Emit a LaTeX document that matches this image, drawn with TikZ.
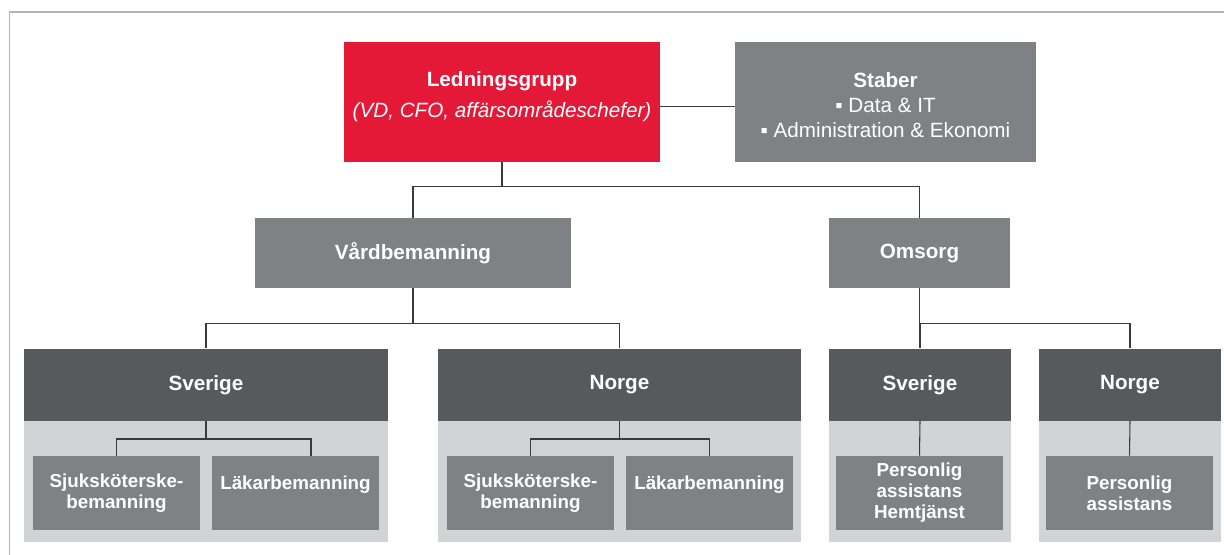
\documentclass[tikz,border=0pt]{standalone}
\usepackage{fontspec}
\setmainfont{Liberation Sans}
\definecolor{lgred}{HTML}{E31937}
\definecolor{boxgray}{HTML}{808184}
\definecolor{headgray}{HTML}{58595B}
\definecolor{panelgray}{HTML}{D1D3D4}
\definecolor{framegray}{HTML}{B4B4B4}
\definecolor{linegray}{HTML}{3A3A3A}
\tikzset{
  topbox/.style={fill=boxgray, text=white, align=center, inner sep=0pt,
    font=\bfseries\fontsize{15.5}{18.5}\selectfont},
  headbox/.style={topbox, fill=headgray},
  panelbox/.style={fill=panelgray, inner sep=0pt},
  unitbox/.style={fill=boxgray, text=white, align=center, inner sep=0pt,
    minimum width=125.25pt, minimum height=55.5pt,
    font=\bfseries\fontsize{14.1}{15.8}\selectfont},
  conn/.style={draw=linegray, line width=0.8pt}
}
\begin{document}
\begin{tikzpicture}[x=0.75pt, y=-0.75pt]
    \useasboundingbox (0,0) rectangle (1224,555);
    % frame
    \draw[framegray, line width=1.2pt] (9.5,555) -- (9.5,12) -- (1224,12);

    % top level
    \node[topbox, fill=lgred, minimum width=237pt, minimum height=90pt] (lg) at (502,102)
      {Ledningsgrupp\\[4.5pt]{\mdseries\itshape (VD, CFO, affärsområdeschefer)}\rule[-10.8pt]{0pt}{10.8pt}};
    \node[topbox, minimum width=225.75pt, minimum height=90pt] (staber) at (885.5,102)
      {\rule{0pt}{16pt}Staber\\{\mdseries ▪ Data \& IT}\\{\mdseries ▪ Administration \& Ekonomi}};
    \draw[conn] ([yshift=-3.5pt]lg.east) -- ([yshift=-3.5pt]staber.west);

    % business areas
    \node[topbox, minimum width=237pt, minimum height=52.5pt] (vard) at (413,253) {Vårdbemanning};
    \node[topbox, minimum width=135.75pt, minimum height=52.5pt] (omsorg) at (919.5,253) {Omsorg};
    \draw[conn] (lg.south) -- ++(0,24) -| (vard.north);
    \draw[conn] (lg.south) -- ++(0,24) -| (omsorg.north);

    % countries: light panel + dark header
    \foreach \n/\x/\w/\t in {vs/206/273/Sverige, vn/619.5/272.25/Norge,
                             os/920/136.5/Sverige, on/1130/136.5/Norge} {
      \node[panelbox, minimum width=\w pt, minimum height=90.75pt, anchor=north] (\n p) at (\x,421) {};
      \node[headbox, minimum width=\w pt, minimum height=54pt, anchor=south] (\n) at (\x,421) {\t};
    }
    \draw[conn] (vard.south) -- ++(0,35) -| (vs.north);
    \draw[conn] (vard.south) -- ++(0,35) -| (vn.north);
    \draw[conn] (omsorg.south) -- ++(0,35) -| (os.north);
    \draw[conn] (omsorg.south) -- ++(0,35) -| (on.north);

    % units
    \node[unitbox] (vs1) at (116.5,493) {Sjuksköterske-\\bemanning};
    \node[unitbox] (vs2) at (295.5,493) {Läkarbemanning\\\mbox{}};
    \node[unitbox] (vn1) at (530.5,493) {Sjuksköterske-\\bemanning};
    \node[unitbox] (vn2) at (709.5,493) {Läkarbemanning\\\mbox{}};
    \node[unitbox] (os1) at (919.5,493) {Personlig\\assistans\\Hemtjänst};
    \node[unitbox] (on1) at (1129.5,493) {Personlig\\assistans};

    \draw[conn] (vs.south) -- ++(0,18) -| (vs1.north);
    \draw[conn] (vs.south) -- ++(0,18) -| ([xshift=11.6pt]vs2.north);
    \draw[conn] (vn.south) -- ++(0,18) -| (vn1.north);
    \draw[conn] (vn.south) -- ++(0,18) -| (vn2.north);
    \draw[conn] (os.south) -- (os1.north);
    \draw[conn] (on.south) -- (on1.north);
\end{tikzpicture}
\end{document}
